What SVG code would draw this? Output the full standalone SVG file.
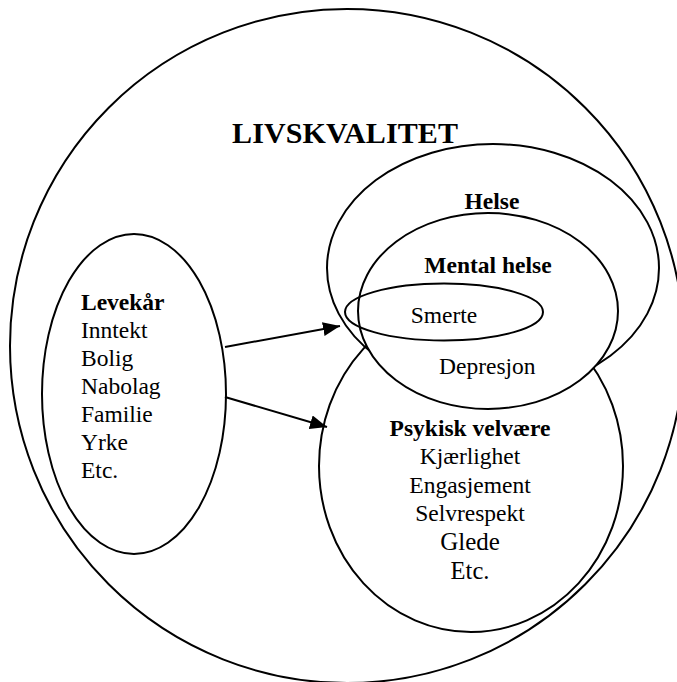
<svg xmlns="http://www.w3.org/2000/svg" width="677" height="682" viewBox="0 0 677 682">
  <style>
    .shape { fill: none; stroke: #000; stroke-width: 2; }
    .cover { fill: #fff; stroke: #000; stroke-width: 2; }
    .link { stroke: #000; stroke-width: 2; fill: none; }
    text { font-family: "Liberation Serif", "Times New Roman", serif; font-size: 23.5px; fill: #000; }
    .b { font-weight: bold; }
    .mid { text-anchor: middle; }
  </style>
  <defs>
    <marker id="arrow" markerUnits="userSpaceOnUse" markerWidth="18" markerHeight="14" refX="17" refY="7" orient="auto">
      <path d="M0,0 L17,7 L0,14 z" fill="#000"/>
    </marker>
  </defs>

  <!-- outer frame: quality of life -->
  <g id="livskvalitet">
    <circle class="shape" cx="347" cy="346" r="337"/>
    <text class="b" x="232" y="143" style="font-size:30px" textLength="226">LIVSKVALITET</text>
  </g>

  <!-- living conditions -->
  <g id="levekar">
    <ellipse class="shape" cx="134" cy="394" rx="92" ry="160"/>
    <text class="b" x="81" y="310">Levekår</text>
    <text x="81" y="338">Inntekt</text>
    <text x="81" y="366">Bolig</text>
    <text x="81" y="394">Nabolag</text>
    <text x="81" y="422">Familie</text>
    <text x="81" y="450">Yrke</text>
    <text x="81" y="478">Etc.</text>
  </g>

  <!-- health -->
  <g id="helse">
    <ellipse class="shape" cx="493" cy="268" rx="166" ry="124"/>
    <text class="b mid" x="492" y="209">Helse</text>
  </g>

  <!-- psychological well-being -->
  <g id="psykisk-velvaere">
    <ellipse class="shape" cx="471" cy="466" rx="152" ry="166"/>
    <text class="b mid" x="470" y="436">Psykisk velvære</text>
    <text class="mid" x="470" y="464">Kjærlighet</text>
    <text class="mid" x="470" y="493">Engasjement</text>
    <text class="mid" x="470" y="521">Selvrespekt</text>
    <text class="mid" x="470" y="550" style="font-size:25px">Glede</text>
    <text class="mid" x="470" y="579" style="font-size:24.5px">Etc.</text>
  </g>

  <!-- mental health (covers the inner parts of the two shapes behind it) -->
  <g id="mental-helse">
    <ellipse class="cover" cx="488" cy="311" rx="130" ry="98"/>
    <text class="b mid" x="488" y="273">Mental helse</text>
    <text x="439" y="374">Depresjon</text>
  </g>

  <!-- pain -->
  <g id="smerte">
    <ellipse class="shape" cx="444" cy="312" rx="99" ry="28.5"/>
    <text class="mid" x="444" y="323">Smerte</text>
  </g>

  <g id="connectors">
    <line class="link" x1="225" y1="347" x2="340" y2="326" marker-end="url(#arrow)"/>
    <line class="link" x1="225" y1="397" x2="327" y2="427" marker-end="url(#arrow)"/>
  </g>
</svg>
